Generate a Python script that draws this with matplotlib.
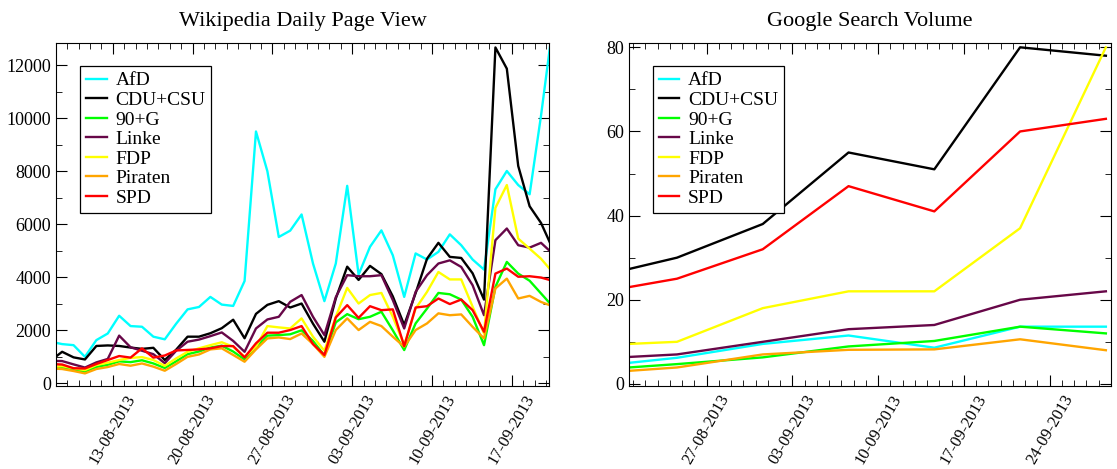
import numpy as np
import pandas as pd
import matplotlib
matplotlib.use("Agg")
import matplotlib.pyplot as plt
import matplotlib.dates as mdates

plt.rcParams['font.family'] = ['Liberation Serif', 'DejaVu Serif']

parties = ["AfD", "CDU+CSU", "90+G", "Linke", "FDP", "Piraten", "SPD"]
colors = ["#00ffff", "#000000", "#00ff00", "#670748", "#ffff00", "#ffa500", "#ff0000"]

# daily wikipedia page views
wiki_dates = pd.date_range("2013-08-07 13:30", periods=45, freq="D")
wiki_afd = [1570, 1480, 1440, 1000, 1630, 1880, 2550, 2160, 2135, 1760, 1660, 2250, 2790, 2880, 3260,
            2970, 2920, 3860, 9500, 8000, 5520, 5760, 6370, 4520, 3100, 4520, 7450, 4100, 5150, 5770,
            4830, 3260, 4900, 4670, 4960, 5620, 5210, 4670, 4290, 7320, 8010, 7480, 7130, 10100, 13400]
wiki_cdu = [860, 1190, 980, 900, 1410, 1430, 1410, 1350, 1300, 1340, 880, 1270, 1760, 1760, 1890,
            2080, 2400, 1700, 2620, 2960, 3100, 2860, 3010, 2250, 1570, 3200, 4400, 3900, 4430, 4120,
            3280, 2200, 3400, 4700, 5300, 4770, 4730, 4150, 3160, 12670, 11870, 8200, 6680, 6050, 5100]
wiki_gruene = [600, 600, 510, 440, 620, 700, 830, 800, 870, 750, 580, 830, 1100, 1200, 1350,
               1420, 1200, 900, 1350, 1800, 1820, 1850, 2000, 1600, 1050, 2300, 2610, 2420, 2510, 2700,
               2000, 1255, 2260, 2820, 3410, 3360, 3160, 2510, 1440, 3640, 4580, 4140, 3870, 3390, 2910]
wiki_linke = [850, 840, 715, 595, 790, 920, 1800, 1360, 1230, 1100, 760, 1230, 1570, 1650, 1780,
              1920, 1600, 1190, 2070, 2410, 2510, 3075, 3330, 2510, 1820, 3250, 4080, 4040, 4040, 4080,
              3140, 2070, 3450, 4080, 4520, 4640, 4390, 3700, 2570, 5400, 5840, 5210, 5120, 5300, 4900]
wiki_fdp = [620, 650, 565, 500, 690, 780, 880, 960, 990, 880, 660, 940, 1190, 1320, 1440,
            1550, 1380, 1000, 1380, 2160, 2110, 2070, 2450, 1760, 1230, 2510, 3600, 3010, 3330, 3410,
            2510, 1440, 2820, 3450, 4200, 3920, 3920, 2890, 1880, 6620, 7480, 5460, 5080, 4700, 4200]
wiki_piraten = [560, 540, 465, 375, 540, 615, 730, 665, 750, 630, 475, 730, 1000, 1090, 1280,
                1320, 1070, 815, 1280, 1695, 1730, 1670, 1880, 1480, 1000, 2010, 2450, 2010, 2320, 2160,
                1760, 1380, 2010, 2260, 2640, 2570, 2600, 2130, 1695, 3580, 3950, 3200, 3300, 3070, 2910]
wiki_spd = [730, 710, 570, 560, 730, 880, 1030, 970, 1320, 970, 1050, 1240, 1260, 1280, 1320,
            1405, 1405, 980, 1510, 1910, 1910, 2010, 2160, 1480, 1070, 2485, 2950, 2470, 2910, 2760,
            2790, 1405, 2860, 2910, 3200, 2990, 3160, 2760, 1945, 4140, 4330, 4020, 4040, 3990, 3870]

# weekly google search volume
google_dates = pd.to_datetime(["2013-08-20 16:00", "2013-08-24 14:00", "2013-08-31 14:00",
                               "2013-09-07 14:00", "2013-09-14 14:00", "2013-09-21 14:00",
                               "2013-09-28 14:00"])
google_afd = [5.0, 6.2, 9.5, 11.5, 8.6, 13.6, 13.6]
google_cdu = [27.3, 30, 38, 55, 51, 80, 78]
google_gruene = [3.9, 4.7, 6.3, 8.9, 10.2, 13.6, 12]
google_linke = [6.4, 7, 10, 13, 14, 20, 22]
google_fdp = [9.5, 10, 18, 22, 22, 37, 80]
google_piraten = [3.1, 3.9, 7, 8.1, 8.2, 10.6, 8]
google_spd = [23, 25, 32, 47, 41, 60, 63]

wiki = [wiki_afd, wiki_cdu, wiki_gruene, wiki_linke, wiki_fdp, wiki_piraten, wiki_spd]
google = [google_afd, google_cdu, google_gruene, google_linke, google_fdp, google_piraten, google_spd]

fig = plt.figure(figsize=(11.17, 4.69), dpi=100)
ax1 = fig.add_axes([0.0499, 0.177, 0.4419, 0.732])
ax2 = fig.add_axes([0.5631, 0.177, 0.4315, 0.732])

for i in range(len(parties)):
    ax1.plot(wiki_dates, wiki[i], color=colors[i], lw=1.7, label=parties[i])
    ax2.plot(google_dates, google[i], color=colors[i], lw=1.7, label=parties[i])

ax1.set_xlim(pd.Timestamp("2013-08-08 00:00"), pd.Timestamp("2013-09-20 07:00"))
ax1.set_ylim(-100, 12850)
ax1.yaxis.set_major_locator(plt.MultipleLocator(2000))
ax1.yaxis.set_minor_locator(plt.MultipleLocator(1000))

ax2.set_xlim(pd.Timestamp("2013-08-20 16:00"), pd.Timestamp("2013-09-29 00:00"))
ax2.set_ylim(-0.5, 81.1)
ax2.yaxis.set_major_locator(plt.MultipleLocator(20))
ax2.yaxis.set_minor_locator(plt.MultipleLocator(10))

for ax, title in [(ax1, "Wikipedia Daily Page View"), (ax2, "Google Search Volume")]:
    ax.set_title(title, fontsize=16, pad=12)
    ax.xaxis.set_major_locator(mdates.WeekdayLocator(byweekday=mdates.TU))
    ax.xaxis.set_minor_locator(mdates.DayLocator())
    ax.xaxis.set_major_formatter(mdates.DateFormatter("%d-%m-%Y"))
    ax.tick_params(which="both", direction="in", top=True, right=True)
    ax.tick_params(which="major", length=8)
    ax.tick_params(which="minor", length=4)
    ax.tick_params(axis="y", labelsize=13)
    ax.tick_params(axis="x", labelsize=12, labelrotation=60, pad=4)
    leg = ax.legend(loc="upper left", bbox_to_anchor=(0.05, 0.932), borderaxespad=0,
                    fontsize=14, labelspacing=0.1, handlelength=1.05, handletextpad=0.45,
                    borderpad=0.3, fancybox=False, framealpha=1)
    leg.get_frame().set_edgecolor("black")
    leg.get_frame().set_linewidth(0.9)

plt.savefig("out.png", dpi=100)
